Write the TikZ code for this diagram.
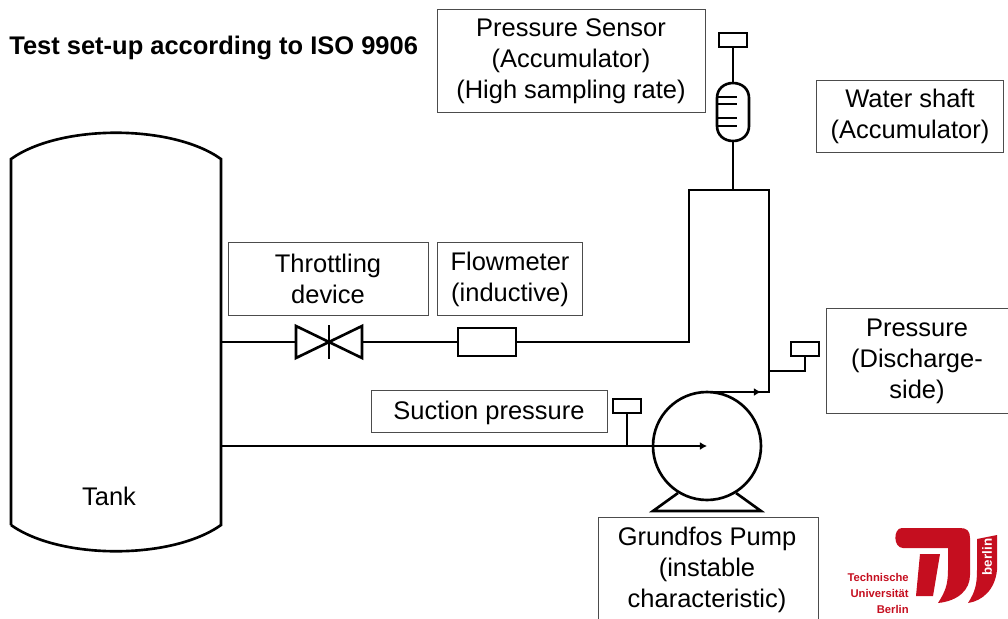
\documentclass[tikz,border=0pt]{standalone}
\usepackage{fontspec}
\setmainfont{Liberation Sans}
\usetikzlibrary{arrows.meta, calc}
\definecolor{tured}{RGB}{197,14,31}
\tikzset{
  label box/.style = {draw = black!70, line width = 0.5pt, align = center, inner sep = 0pt, font = \fontsize{14.5}{17.7}\selectfont, execute at begin node = {\rule{0pt}{12.5pt}}},
  pipe/.style = {line width = 1.5pt},
  sensor/.style = {draw, line width = 1.5pt, minimum width = 0.56cm, minimum height = 0.28cm, inner sep = 0pt},
}
\begin{document}
\begin{tikzpicture}[x = 0.02cm, y = -0.02cm]
        \useasboundingbox (0,0) rectangle (1008,619);

        % tank
        \draw[pipe] (11,525) -- (11,159) .. controls (60,124) and (172,124) .. (221,159) -- (221,525) .. controls (172,560) and (60,560) .. (11,525);
        \coordinate (tankupper) at (221,342);
        \coordinate (tanklower) at (221,446);
        \node (tank) at (109,496) {\fontsize{14.5}{17}\selectfont Tank};

        % labels
        \node[font = \bfseries\fontsize{14.5}{16}\selectfont, anchor = west, inner sep = 0pt] (title) at (9,48) {Test set-up according to ISO 9906};
        \node[label box, minimum width = 5.36cm, minimum height = 2.06cm] (sensorlabel) at (571,61) {Pressure Sensor\\(Accumulator)\\(High sampling rate)};
        \node[label box, minimum width = 3.74cm, minimum height = 1.44cm] (shaftlabel) at (910,116) {Water shaft\\(Accumulator)};
        \node[label box, minimum width = 4cm, minimum height = 1.46cm] (throttlelabel) at (328,279) {Throttling\\device};
        \node[label box, minimum width = 2.9cm, minimum height = 1.46cm] (flowlabel) at (510,279) {Flowmeter\\(inductive)};
        \node[label box, minimum width = 4.72cm, minimum height = 0.84cm] (suctionlabel) at (489,411) {Suction pressure};
        \node[label box, minimum width = 3.64cm, minimum height = 2.1cm] (dischargelabel) at (917,361) {Pressure\\(Discharge-\\side)};
        \draw[draw = black!70, line width = 0.5pt] (598,619) -- (598,517) -- (818,517) -- (818,619);
        \node[align = center, font = \fontsize{14.5}{17.7}\selectfont] (pumplabel) at (707,570) {Grundfos Pump\\(instable\\characteristic)};

        % accumulator with sensor on top
        \node[sensor] (topsensor) at (733,40) {};
        \draw[pipe] (717,98) .. controls (717,89) and (724,83) .. (733,83) .. controls (742,83) and (749,89) .. (749,98) -- (749,126) .. controls (749,135) and (742,141) .. (733,141) .. controls (724,141) and (717,135) .. (717,126) -- cycle;
        \coordinate (accutop) at (733,83);
        \coordinate (accubottom) at (733,141);
        \draw[pipe] (topsensor) -- (accutop);
        \foreach \y in {97,104,118,126}
          \draw[pipe] (717,\y) -- (737,\y);

        % water shaft
        \coordinate (shafttop) at (733,190);
        \draw[pipe] (accubottom) -- (shafttop);
        \coordinate (outlet) at (769,392);

        % pump
        \node[draw, circle, line width = 1.5pt, minimum size = 2.16cm, inner sep = 0pt] (pump) at (707,446) {};
        \draw[pipe] (678,493) -- (653,511) -- (761,511) -- (736,493);
        \coordinate (pumpcentre) at (707,446);
        \coordinate (pumptop) at (707,392);

        % pipes
        \node[draw, line width = 1.5pt, minimum width = 1.16cm, minimum height = 0.56cm, inner sep = 0pt] (flowmeter) at (487,342) {};
        \coordinate (valve) at (329,342);
        \draw[pipe] (tankupper) -- (296,342);
        \draw[pipe] (296,326) -- (296,358) -- (362,326) -- (362,358) -- cycle;
        \draw[pipe] (valve) ++(0,-17) -- ++(0,34);
        \draw[pipe] (362,342) -- (flowmeter);
        \draw[pipe] (flowmeter) -- (689,342) -- (689,190) -- (769,190) -- (outlet) -- (pumptop);
        \draw[pipe, -{Latex[length = 4pt, width = 4.5pt]}] (pumptop) -- (761,392);
        \draw[pipe, -{Latex[length = 4pt, width = 4.5pt]}] (tanklower) -- (pumpcentre);

        % pressure sensors
        \node[sensor] (suctionsensor) at (627,406) {};
        \draw[pipe] (suctionsensor) -- (627,446);
        \node[sensor] (dischargesensor) at (805,349) {};
        \draw[pipe] (dischargesensor) -- (805,371) -- (769,371);

        % logo
        \fill[tured] (902,528) -- (960,528) .. controls (967,528) and (970,531) .. (970,538) -- (970,575) .. controls (970,590) and (958,601) .. (938,603) .. controls (945,592) and (948,585) .. (948,570) -- (948,548) -- (903,548) .. controls (893,548) and (893,528) .. (902,528) -- cycle;
        \fill[tured] (920,554) -- (940,554) -- (933,596) -- (916,596) -- cycle;
        \fill[tured] (977,539) -- (997,535) -- (997,570) .. controls (995,590) and (982,601) .. (968,603) .. controls (975,592) and (977,585) .. (977,570) -- cycle;
        \node[rotate = 90, text = white, font = \bfseries\fontsize{7.6}{8}\selectfont] (berlinmark) at (987,557) {berlin};
        \node[align = right, anchor = east, text = tured, font = \bfseries\fontsize{6.4}{9.1}\selectfont, inner sep = 0pt] (tulabel) at (909,593) {Technische\\Universität\\Berlin};
      \end{tikzpicture}
\end{document}
